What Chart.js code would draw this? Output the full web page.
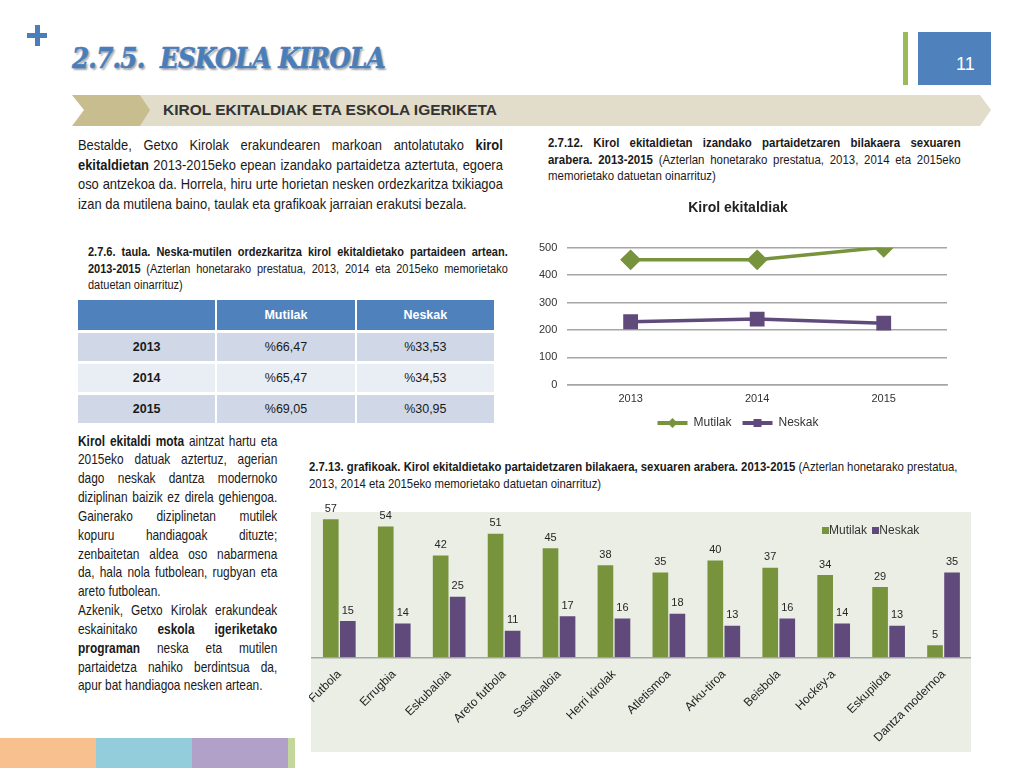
<!DOCTYPE html>
<html>
<head>
<meta charset="utf-8">
<script src="https://cdn.jsdelivr.net/npm/chart.js@4/dist/chart.umd.min.js"></script>
<style>
  body { margin: 0; width: 1024px; height: 768px; position: relative; overflow: hidden; background: #fff;
         font-family: "Liberation Sans", Arial, sans-serif; color: #1a1a1a; }
  .abs { position: absolute; }
  .title { left: 72px; top: 42px; font: italic bold 28px "DejaVu Serif", serif; color: #4a7ebb;
           -webkit-text-stroke: 0.6px #4a7ebb; transform: scaleX(0.88); transform-origin: 0 0;
           text-shadow: 2px 2px 2px rgba(0,0,0,0.35); letter-spacing: -0.9px; white-space: nowrap; }
  .gbar { left: 903px; top: 32px; width: 5px; height: 53px; background: #9bbb59; }
  .pnum { left: 918px; top: 32px; width: 73px; height: 53px; background: #4f81bd; color: #fff; font: 18px "Liberation Sans", sans-serif;
          padding: 22px 0 0 38px; box-sizing: border-box; }
  /* narrow text: Liberation Sans squeezed to look like Arial Narrow */
  .nar { transform-origin: 0 0; }
  .p { text-align: justify; font-size: 15px; line-height: 19.5px; margin: 0; }
  .cap { font-size: 12.5px; line-height: 16.5px; margin: 0; text-align: justify; }
  .ln { white-space: nowrap; text-align: justify; text-align-last: justify; }
  .ln.end { text-align-last: left; }
  table { border-collapse: separate; border-spacing: 2px 3px; font-family: "Liberation Sans", Arial, sans-serif; font-size: 12.5px; table-layout: fixed; }
  td { text-align: center; height: 28px; padding: 0; }
  th { background: #4f81bd; color: #fff; height: 28px; font-weight: bold; }
  .strip { top: 738px; height: 30px; }
</style>
</head>
<body>
<div class="abs" style="left:27px;top:33px;width:20px;height:5px;background:#4a7ebb"></div>
<div class="abs" style="left:34.5px;top:25px;width:5px;height:21px;background:#4a7ebb"></div>
<div class="abs title">2.7.5.&nbsp; ESKOLA KIROLA</div>
<div class="abs gbar"></div>
<div class="abs pnum">11</div>

<svg class="abs" style="left:0;top:0" width="1024" height="140">
  <polygon points="140,95 980,95 991,110 980,126 140,126 148,110" fill="#e1ddca"/>
  <polygon points="72,95 140,95 150,110 140,126 72,126 84,110" fill="#c7bd8f"/>
  <text x="163" y="115" textLength="334" lengthAdjust="spacingAndGlyphs" font-family="Liberation Sans, Arial" font-size="15" font-weight="bold" fill="#333">KIROL EKITALDIAK ETA ESKOLA IGERIKETA</text>
</svg>

<div class="abs nar" style="left:78px;top:135px;width:494px;transform:scaleX(0.86)">
  <p class="p">Bestalde, Getxo Kirolak erakundearen markoan antolatutako <b>kirol ekitaldietan</b> 2013-2015eko epean izandako partaidetza aztertuta, egoera oso antzekoa da. Horrela, hiru urte horietan nesken ordezkaritza txikiagoa izan da mutilena baino, taulak eta grafikoak jarraian erakutsi bezala.</p>
</div>

<div class="abs nar" style="left:88px;top:244px;width:477px;transform:scaleX(0.88)">
  <p class="cap"><b>2.7.6. taula. Neska-mutilen ordezkaritza kirol ekitaldietako partaideen artean. 2013-2015</b> (Azterlan honetarako prestatua, 2013, 2014 eta 2015eko memorietako datuetan oinarrituz)</p>
</div>

<table class="abs" id="tbl" style="left:76px;top:297px;width:420px"></table>

<div class="abs nar" style="left:78px;top:431.5px;width:243px;transform:scaleX(0.82);font-size:14.5px;line-height:18.85px">
  <div class="ln"><b>Kirol ekitaldi mota</b> aintzat hartu eta</div>
  <div class="ln">2015eko datuak aztertuz, agerian</div>
  <div class="ln">dago neskak dantza modernoko</div>
  <div class="ln">diziplinan baizik ez direla gehiengoa.</div>
  <div class="ln">Gainerako diziplinetan mutilek</div>
  <div class="ln">kopuru handiagoak dituzte;</div>
  <div class="ln">zenbaitetan aldea oso nabarmena</div>
  <div class="ln">da, hala nola futbolean, rugbyan eta</div>
  <div class="ln end">areto futbolean.</div>
  <div class="ln">Azkenik, Getxo Kirolak erakundeak</div>
  <div class="ln">eskainitako <b>eskola igeriketako</b></div>
  <div class="ln"><b>programan</b> neska eta mutilen</div>
  <div class="ln">partaidetza nahiko berdintsua da,</div>
  <div class="ln end">apur bat handiagoa nesken artean.</div>
</div>

<div class="abs nar" style="left:548px;top:135px;width:469px;transform:scaleX(0.88)">
  <p class="cap" style="font-size:13px"><b>2.7.12. Kirol ekitaldietan izandako partaidetzaren bilakaera sexuaren arabera. 2013-2015</b> (Azterlan honetarako prestatua, 2013, 2014 eta 2015eko memorietako datuetan oinarrituz)</p>
</div>

<div class="abs" style="left:522px;top:194px;width:440px;height:245px"><canvas id="lineChart"></canvas></div>

<div class="abs nar" style="left:309px;top:459px;width:757px;transform:scaleX(0.873)">
  <p class="cap" style="text-align:left;font-size:13px"><b>2.7.13. grafikoak. Kirol ekitaldietako partaidetzaren bilakaera, sexuaren arabera. 2013-2015</b> (Azterlan honetarako prestatua, 2013, 2014 eta 2015eko memorietako datuetan oinarrituz)</p>
</div>

<div class="abs" style="left:311px;top:512px;width:660px;height:240px;background:#eaeee5"></div>
<div class="abs" style="left:309px;top:490px;width:662px;height:262px"><canvas id="barChart"></canvas></div>
<div class="abs" style="left:822px;top:523px;font-size:12px;color:#333;white-space:nowrap">
  <span style="display:inline-block;width:7px;height:7px;background:#77933c"></span>Mutilak
  <span style="display:inline-block;width:7px;height:7px;background:#604a7b;margin-left:2px"></span>Neskak
</div>

<div class="abs strip" style="left:0;width:96px;background:#f9c08f"></div>
<div class="abs strip" style="left:96px;width:96px;background:#93cddc"></div>
<div class="abs strip" style="left:192px;width:96px;background:#b1a0c7"></div>
<div class="abs strip" style="left:288px;width:7px;background:#c3d69b"></div>

<script>
// table data
const tblYears = ['2013', '2014', '2015']
const tblMutilak = ['%66,47', '%65,47', '%69,05']
const tblNeskak = ['%33,53', '%34,53', '%30,95']

// line chart data
const years = ['2013', '2014', '2015']
const mutilakTot = [456, 456, 502]
const neskakTot = [230, 240, 225]

// bar chart data
const sports = ['Futbola', 'Errugbia', 'Eskubaloia', 'Areto futbola', 'Saskibaloia', 'Herri kirolak',
    'Atletismoa', 'Arku-tiroa', 'Beisbola', 'Hockey-a', 'Eskupilota', 'Dantza modernoa']
const mutilak = [57, 54, 42, 51, 45, 38, 35, 40, 37, 34, 29, 5]
const neskak = [15, 14, 25, 11, 17, 16, 18, 13, 16, 14, 13, 35]

const GREEN = '#77933c'
const PURPLE = '#604a7b'
const FONT = '"Liberation Sans", Arial, sans-serif'

// build table
const tbl = document.getElementById('tbl')
let html = '<tr><th></th><th>Mutilak</th><th>Neskak</th></tr>'
tblYears.forEach((y, i) => {
    const bg = i % 2 === 0 ? '#d0d8e8' : '#e9edf4'
    html += `<tr><td style="background:${bg}"><b>${y}</b></td><td style="background:${bg}">${tblMutilak[i]}</td><td style="background:${bg}">${tblNeskak[i]}</td></tr>`
})
tbl.innerHTML = html

// markers on the line legend
const legendMarks = {
    id: 'legendMarks',
    afterDraw(chart) {
        const ctx = chart.ctx
        chart.legend.legendHitBoxes.forEach((b, i) => {
            const ds = chart.data.datasets[i]
            const cx = b.left + 15, cy = b.top + b.height / 2
            ctx.save()
            ctx.fillStyle = ds.borderColor
            ctx.beginPath()
            if (ds.pointStyle === 'rectRot') {
                ctx.moveTo(cx, cy - 5); ctx.lineTo(cx + 5, cy); ctx.lineTo(cx, cy + 5); ctx.lineTo(cx - 5, cy)
            } else {
                ctx.rect(cx - 4, cy - 4, 8, 8)
            }
            ctx.closePath()
            ctx.fill()
            ctx.restore()
        })
    }
}

new Chart(document.getElementById('lineChart'), {
    type: 'line',
    data: {
        labels: years,
        datasets: [
            { label: 'Mutilak', data: mutilakTot, borderColor: GREEN, backgroundColor: GREEN, borderWidth: 3.5,
              pointStyle: 'rectRot', pointRadius: 8, pointHoverRadius: 8 },
            { label: 'Neskak', data: neskakTot, borderColor: PURPLE, backgroundColor: PURPLE, borderWidth: 3.5,
              pointStyle: 'rect', pointRadius: 8, pointHoverRadius: 8 }
        ]
    },
    options: {
        responsive: true, maintainAspectRatio: false, animation: false,
        layout: { padding: { left: 7, right: 15, top: 0, bottom: 0 } },
        plugins: {
            title: { display: true, text: 'Kirol ekitaldiak', color: '#222', font: { family: FONT, size: 14, weight: 'bold' }, padding: { top: 6, bottom: 31 } },
            legend: {
                position: 'bottom',
                labels: {
                    color: '#333', font: { family: FONT, size: 12 }, boxWidth: 30, boxHeight: 4, padding: 11,
                    generateLabels(chart) {
                        const items = Chart.defaults.plugins.legend.labels.generateLabels(chart)
                        items.forEach(it => { it.lineWidth = 0; it.fillStyle = it.strokeStyle })
                        return items
                    }
                }
            },
            tooltip: { enabled: false }
        },
        scales: {
            x: { offset: true, grid: { display: false }, border: { color: '#a6a6a6', width: 1.5 },
                 ticks: { color: '#333', font: { family: FONT, size: 11 }, padding: 0 } },
            y: { min: 0, max: 500, ticks: { stepSize: 100, color: '#333', font: { family: FONT, size: 11 }, padding: 10 },
                 grid: { color: '#a6a6a6', lineWidth: 1.5, drawTicks: false }, border: { display: false } }
        }
    },
    plugins: [legendMarks]
})

// value labels above bars
const barLabels = {
    id: 'barLabels',
    afterDatasetsDraw(chart) {
        const ctx = chart.ctx
        ctx.save()
        ctx.font = '11px ' + FONT
        ctx.fillStyle = '#262626'
        ctx.textAlign = 'center'
        ctx.textBaseline = 'bottom'
        chart.data.datasets.forEach((ds, i) => {
            chart.getDatasetMeta(i).data.forEach((bar, j) => {
                ctx.fillText(ds.data[j], bar.x, bar.y - 5)
            })
        })
        ctx.restore()
    }
}

new Chart(document.getElementById('barChart'), {
    type: 'bar',
    data: {
        labels: sports,
        datasets: [
            { label: 'Mutilak', data: mutilak, backgroundColor: GREEN },
            { label: 'Neskak', data: neskak, backgroundColor: PURPLE }
        ]
    },
    options: {
        responsive: true, maintainAspectRatio: false, animation: false,
        layout: { padding: { top: 22, bottom: 5, left: 0, right: 0 } },
        categoryPercentage: 0.62, barPercentage: 0.92,
        plugins: { legend: { display: false }, tooltip: { enabled: false } },
        scales: {
            x: { grid: { display: false }, border: { color: '#a6a6a6', width: 1.5 },
                 ticks: { color: '#222', font: { family: FONT, size: 12 }, minRotation: 45, maxRotation: 45, padding: 2 } },
            y: { display: false, min: 0, max: 60 }
        }
    },
    plugins: [barLabels]
})
</script>
</body>
</html>
